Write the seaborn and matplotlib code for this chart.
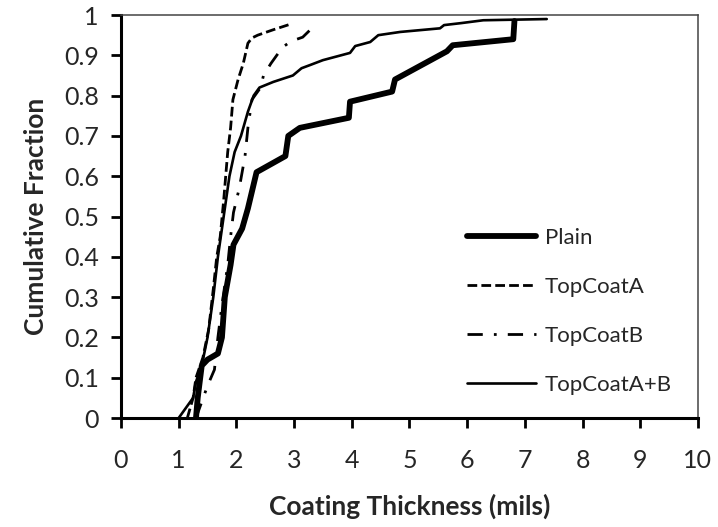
import matplotlib
matplotlib.use("Agg")
import matplotlib.pyplot as plt
import seaborn as sns
import pandas as pd

# ---- data ----
plain_x = [1.30, 1.33, 1.40, 1.50, 1.68, 1.75, 1.80, 1.90, 1.95, 2.10, 2.20, 2.35,
           2.60, 2.85, 2.90, 3.10, 3.95, 3.97, 4.70, 4.75, 5.65, 5.75, 6.80, 6.82]
plain_y = [0.00, 0.05, 0.13, 0.145, 0.16, 0.20, 0.30, 0.38, 0.43, 0.47, 0.52, 0.61,
           0.63, 0.65, 0.70, 0.72, 0.745, 0.785, 0.81, 0.84, 0.91, 0.925, 0.94, 0.985]

topa_x = [1.15, 1.25, 1.30, 1.42, 1.52, 1.60, 1.66, 1.72, 1.78, 1.85, 1.90, 1.94,
          2.03, 2.12, 2.20, 2.27, 2.37, 2.63, 2.93]
topa_y = [0.00, 0.05, 0.10, 0.15, 0.22, 0.32, 0.40, 0.45, 0.54, 0.66, 0.72, 0.79,
          0.84, 0.88, 0.93, 0.943, 0.95, 0.963, 0.977]

topb_x = [1.30, 1.40, 1.50, 1.62, 1.68, 1.75, 1.85, 1.90, 1.95, 2.05, 2.15, 2.20,
          2.27, 2.42, 2.47, 2.60, 2.80, 2.95, 3.15, 3.40]
topb_y = [0.00, 0.04, 0.08, 0.12, 0.20, 0.28, 0.38, 0.45, 0.51, 0.57, 0.65, 0.72,
          0.79, 0.82, 0.85, 0.88, 0.92, 0.935, 0.945, 0.98]

topab_x = [1.00, 1.10, 1.25, 1.30, 1.40, 1.50, 1.60, 1.68, 1.78, 1.88, 1.97, 2.08,
           2.20, 2.30, 2.40, 2.64, 2.98, 3.13, 3.28, 3.50, 3.97, 4.06, 4.32, 4.46,
           4.84, 5.53, 5.60, 5.90, 6.28, 7.38]
topab_y = [0.00, 0.02, 0.05, 0.09, 0.13, 0.20, 0.30, 0.40, 0.50, 0.60, 0.66, 0.70,
           0.76, 0.80, 0.82, 0.834, 0.85, 0.868, 0.876, 0.888, 0.906, 0.923, 0.933, 0.95,
           0.958, 0.967, 0.975, 0.98, 0.987, 0.99]

series_names = ["Plain", "TopCoatA", "TopCoatB", "TopCoatA+B"]
x_ticks = list(range(0, 11))
y_ticks = [0, 0.1, 0.2, 0.3, 0.4, 0.5, 0.6, 0.7, 0.8, 0.9, 1.0]
y_tick_labels = ["0", "0.1", "0.2", "0.3", "0.4", "0.5", "0.6", "0.7", "0.8", "0.9", "1"]

# ---- style ----
sns.set_style("ticks")
plt.rcParams["font.family"] = ["Lato", "DejaVu Sans"]
plt.rcParams["lines.scale_dashes"] = False

fig, ax = plt.subplots(figsize=(7.18, 5.27), dpi=100)
fig.subplots_adjust(left=0.1685, right=0.972, top=0.9715, bottom=0.2068)

frames = {
    "Plain": (plain_x, plain_y),
    "TopCoatA": (topa_x, topa_y),
    "TopCoatB": (topb_x, topb_y),
    "TopCoatA+B": (topab_x, topab_y),
}
styles = {
    "Plain": dict(lw=4.2, ls="-"),
    "TopCoatA": dict(lw=2.0, ls=(0, (7, 3))),
    "TopCoatB": dict(lw=2.0, ls=(0, (11, 8, 2, 8))),
    "TopCoatA+B": dict(lw=1.9, ls="-"),
}
for name in series_names:
    xs, ys = frames[name]
    df = pd.DataFrame({"x": xs, "y": ys})
    sns.lineplot(data=df, x="x", y="y", ax=ax, color="black", sort=False,
                 estimator=None, linewidth=styles[name]["lw"],
                 linestyle=styles[name]["ls"], label=name)

ax.set_xlim(0, 10)
ax.set_ylim(0, 1)
ax.set_xticks(x_ticks)
ax.set_yticks(y_ticks)
ax.set_yticklabels(y_tick_labels)
ax.tick_params(axis="both", labelsize=18, color="black", width=2, length=7,
               direction="out")
ax.tick_params(axis="x", pad=15)
ax.tick_params(axis="y", pad=9)
ax.set_xlabel("Coating Thickness (mils)", fontsize=19, fontweight="bold", labelpad=16)
ax.set_ylabel("Cumulative Fraction", fontsize=19, fontweight="bold", labelpad=11)

for s in ["left", "bottom"]:
    ax.spines[s].set_linewidth(2.2)
    ax.spines[s].set_color("black")
for s in ["top", "right"]:
    ax.spines[s].set_visible(True)
    ax.spines[s].set_linewidth(1.1)
    ax.spines[s].set_color("#444444")

leg = ax.legend(loc="center left", bbox_to_anchor=(0.60, 0.265), frameon=False,
                fontsize=16, handlelength=3.1, handletextpad=0.4,
                labelspacing=1.3, borderpad=0, borderaxespad=0)

fig.savefig("out.png", dpi=100)
